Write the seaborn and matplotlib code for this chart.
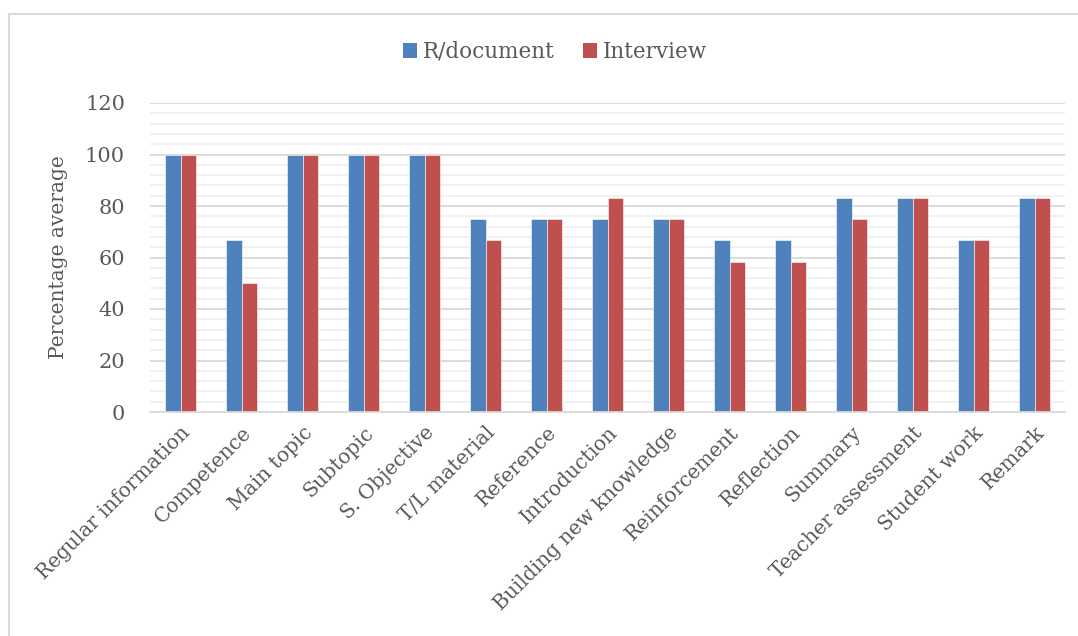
import matplotlib
matplotlib.use("Agg")
import matplotlib.pyplot as plt
import seaborn as sns
import pandas as pd
import numpy as np
from matplotlib.ticker import MultipleLocator
from matplotlib.patches import Rectangle, Patch

categories = ["Regular information", "Competence", "Main topic", "Subtopic", "S. Objective",
              "T/L material", "Reference", "Introduction", "Building new knowledge",
              "Reinforcement", "Reflection", "Summary", "Teacher assessment",
              "Student work", "Remark"]
rdocument = [100, 66.7, 100, 100, 100, 75, 75, 75, 75, 66.7, 66.7, 83.3, 83.3, 66.7, 83.3]
interview = [100, 50, 100, 100, 100, 66.7, 75, 83.3, 75, 58.3, 58.3, 75, 83.3, 66.7, 83.3]
series_names = ["R/document", "Interview"]
colors = ["#4F81BD", "#C0504D"]

df = pd.DataFrame({
    "Category": categories * 2,
    "Value": rdocument + interview,
    "Series": [series_names[0]] * len(categories) + [series_names[1]] * len(categories),
})

sns.set_style("white")
plt.rcParams["font.family"] = ["DejaVu Serif"]
txt = "#595959"

fig = plt.figure(figsize=(10.78, 6.36), dpi=100)
ax = fig.add_axes([150/1078, 1 - 412/636, (1065-150)/1078, (412-103)/636])

sns.barplot(data=df, x="Category", y="Value", hue="Series", palette=colors,
            width=0.5, ax=ax, legend=False, saturation=1,
            edgecolor="#ffffff", linewidth=0.4)

ax.set_ylim(0, 120)
ax.set_xlim(-0.5, len(categories) - 0.5)
ax.yaxis.set_major_locator(MultipleLocator(20))
ax.yaxis.set_minor_locator(MultipleLocator(4))
ax.grid(which="major", axis="y", color="#d9d9d9", linewidth=1.3)
ax.grid(which="minor", axis="y", color="#f0f0f0", linewidth=1.3)
ax.set_axisbelow(True)
for s in ["top", "right", "left"]:
    ax.spines[s].set_visible(False)
ax.spines["bottom"].set_color("#d9d9d9")
ax.spines["bottom"].set_linewidth(1.3)
ax.tick_params(axis="both", which="both", length=0, colors=txt)
ax.tick_params(axis="y", labelsize=15, pad=18)
ax.set_xticks(range(len(categories)))
ax.set_xticklabels(categories, rotation=45, ha="right", rotation_mode="anchor",
                   fontsize=14.5, color=txt)
ax.tick_params(axis="x", pad=8)
ax.set_xlabel("")
ax.set_ylabel("Percentage average", fontsize=14.5, color=txt, labelpad=12)

handles = [Patch(facecolor=c, edgecolor="none") for c in colors]
fig.legend(handles, series_names, loc="center", bbox_to_anchor=(555/1078, 1 - 52/636),
           ncol=2, frameon=False, fontsize=15.5, labelcolor=txt,
           handlelength=0.65, handleheight=0.65, handletextpad=0.3, columnspacing=1.3)

fig.patches.append(Rectangle((9/1078, -0.1), 1.2, 1 - 14/636 + 0.1, transform=fig.transFigure,
                             fill=False, edgecolor="#d9d9d9", linewidth=1.5))

fig.savefig("out.png", dpi=100)
